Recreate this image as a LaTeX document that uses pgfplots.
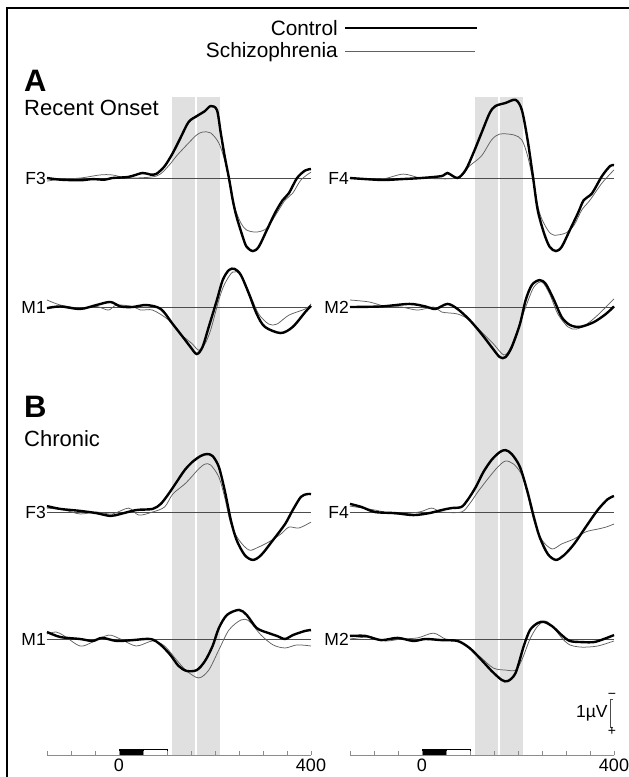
\documentclass[border=0pt]{standalone}
\usepackage{pgfplots}
\pgfplotsset{compat=1.18}
\usepackage{fontspec}
\setmainfont{Liberation Sans}

\pgfplotsset{
  panel/.style={hide axis, scale only axis, width=264pt, height=168pt,
    xmin=-150, xmax=400, ymin=-3, ymax=3, y dir=reverse, clip=false, anchor=west},
  ctrl/.style={black, line width=2.4pt, smooth, tension=0.5, no markers},
  scz/.style={black!62, line width=0.75pt, smooth, tension=0.5, no markers},
  zero/.style={black!70, line width=0.7pt, no markers},
  timeaxis/.style={scale only axis, width=264pt, height=658pt, anchor=south west,
    xmin=-150, xmax=400, ymin=0, ymax=1, axis x line*=bottom, axis y line=none,
    x axis line style={black!45, line width=0.8pt, -}, axis on top,
    xtick={-150,-100,...,400}, xticklabels={,,,0,,,,,,,,400},
    tick align=inside, major tick length=4pt,
    every tick/.style={black!45, line width=0.8pt},
    xticklabel style={font=\fontsize{18}{20}\selectfont, yshift=0pt},
    clip=false},
}
\newcommand{\elab}[1]{\node[anchor=east, inner sep=1pt, font=\fontsize{17.5}{20}\selectfont] at (axis cs:-150,0) {#1};}

\begin{document}
\begin{tikzpicture}
\useasboundingbox (0pt,0pt) rectangle (629pt,-777pt);

% time axes with shaded windows
\begin{axis}[timeaxis, at={(47pt,-755pt)}]
\fill[black!12] (axis cs:110,0) rectangle (axis cs:210,1);
\draw[white, line width=1.5pt] (axis cs:160,0) -- (axis cs:160,1);
\fill[black] (axis cs:0,0) rectangle ([yshift=6pt]axis cs:50,0);
\draw[black, line width=0.6pt, fill=white] (axis cs:50,0) rectangle ([yshift=6pt]axis cs:100,0);
\end{axis}
\begin{axis}[timeaxis, at={(350pt,-755pt)}]
\fill[black!12] (axis cs:110,0) rectangle (axis cs:210,1);
\draw[white, line width=1.5pt] (axis cs:160,0) -- (axis cs:160,1);
\fill[black] (axis cs:0,0) rectangle ([yshift=6pt]axis cs:50,0);
\draw[black, line width=0.6pt, fill=white] (axis cs:50,0) rectangle ([yshift=6pt]axis cs:100,0);
\end{axis}

% ---------- Row 1: Recent onset F3 / F4
\begin{axis}[panel, at={(47pt,-178pt)}]
\addplot[zero] coordinates {(-150,0) (400,0)};
\addplot[scz] coordinates {(-150,0.11)(-120,0.04)(-80,0)(-39,-0.11)(-14,-0.11)(20,0)(78,-0.07)(103,-0.43)(120,-0.79)(145,-1.25)(162,-1.54)(174,-1.64)(191,-1.61)(208,-1.25)(220,-0.64)(233,0.29)(241,1.04)(254,1.61)(266,1.86)(287,1.93)(308,1.79)(329,1.25)(346,0.79)(362,0.54)(379,0.07)(400,-0.21)};
\addplot[ctrl] coordinates {(-150,0)(-122,0.06)(-81,0.08)(-55,0.04)(-30,0.06)(-14,0)(20,-0.04)(49,-0.18)(66,-0.12)(78,-0.15)(95,-0.42)(112,-0.89)(128,-1.43)(145,-2.00)(162,-2.21)(179,-2.39)(191,-2.57)(204,-2.43)(212,-1.61)(220,-0.79)(229,0)(237,0.79)(245,1.39)(258,2.11)(266,2.46)(279,2.61)(291,2.46)(308,1.86)(325,1.25)(341,0.79)(354,0.54)(371,0)(388,-0.27)(400,-0.32)};
\elab{F3}
\end{axis}
\begin{axis}[panel, at={(350pt,-178pt)}]
\addplot[zero] coordinates {(-150,0) (400,0)};
\addplot[scz] coordinates {(-150,0)(-85,0.04)(-39,-0.14)(0,0)(74,0)(99,-0.43)(124,-0.79)(145,-1.36)(162,-1.57)(191,-1.54)(208,-1.36)(220,-0.79)(231,0.07)(245,1.25)(262,1.86)(275,2.04)(300,1.96)(317,1.68)(333,1.14)(350,0.79)(375,0.18)(400,-0.29)};
\addplot[ctrl] coordinates {(-150,0)(-85,0.07)(-43,0.04)(-1,0)(41,-0.07)(53,-0.18)(74,0)(91,-0.29)(107,-0.89)(124,-1.61)(141,-2.32)(153,-2.57)(174,-2.68)(195,-2.79)(208,-2.43)(220,-1.36)(231,-0.07)(241,1.14)(254,1.96)(266,2.46)(279,2.61)(291,2.46)(308,1.86)(325,1.25)(337,0.79)(354,0.55)(375,-0.07)(392,-0.43)(400,-0.46)};
\elab{F4}
\end{axis}

% ---------- Row 2: Recent onset M1 / M2
\begin{axis}[panel, at={(47pt,-307pt)}]
\addplot[zero] coordinates {(-150,0) (400,0)};
\addplot[scz] coordinates {(-150,-0.25)(-122,-0.07)(-81,0.04)(-47,-0.02)(-22,0.11)(-5,-0.07)(28,-0.02)(45,0.11)(70,0.11)(103,0.46)(128,0.96)(153,1.32)(166,1.54)(179,1.32)(191,0.82)(208,-0.25)(220,-0.82)(237,-1.25)(254,-1.14)(275,-0.36)(291,0.25)(312,0.61)(329,0.61)(354,0.29)(388,0.07)(400,-0.11)};
\addplot[ctrl] coordinates {(-150,0.04)(-122,-0.02)(-81,0.07)(-47,-0.07)(-18,-0.18)(3,-0.02)(28,0)(57,-0.07)(87,0.07)(112,0.61)(133,1.07)(149,1.43)(162,1.68)(174,1.43)(187,0.71)(204,-0.25)(216,-0.96)(229,-1.32)(241,-1.36)(254,-1.14)(271,-0.46)(287,0.25)(304,0.71)(337,0.93)(362,0.71)(388,0.18)(400,-0.04)};
\elab{M1}
\end{axis}
\begin{axis}[panel, at={(350pt,-307pt)}]
\addplot[zero] coordinates {(-150,0) (400,0)};
\addplot[scz] coordinates {(-150,-0.25)(-110,-0.18)(-76,-0.02)(-43,0)(-9,0.11)(24,0)(41,0.18)(74,0.25)(99,0.46)(124,0.89)(149,1.32)(170,1.71)(183,1.5)(199,0.82)(216,0)(233,-0.71)(250,-0.89)(266,-0.46)(283,0.25)(304,0.71)(321,0.79)(341,0.64)(366,0.29)(400,-0.29)};
\addplot[ctrl] coordinates {(-150,0)(-85,-0.02)(-26,-0.11)(7,-0.02)(28,0.07)(53,-0.11)(74,0.07)(99,0.46)(124,0.96)(145,1.43)(162,1.79)(174,1.79)(187,1.43)(204,0.61)(216,-0.25)(229,-0.79)(245,-0.96)(258,-0.82)(275,-0.25)(291,0.36)(308,0.64)(329,0.71)(358,0.54)(383,0.25)(400,-0.02)};
\elab{M2}
\end{axis}

% ---------- Row 3: Chronic F3 / F4
\begin{axis}[panel, at={(47pt,-512pt)}]
\addplot[zero] coordinates {(-150,0) (400,0)};
\addplot[scz] coordinates {(-150,-0.14)(-114,-0.07)(-81,0.07)(-47,0)(-14,0.07)(20,-0.14)(41,0.11)(70,0)(95,-0.18)(112,-0.64)(137,-1.0)(153,-1.29)(166,-1.54)(179,-1.71)(191,-1.68)(208,-1.25)(220,-0.54)(233,0.43)(250,1.0)(271,1.36)(291,1.25)(312,1.07)(337,0.79)(354,0.54)(375,0.57)(400,0.36)};
\addplot[ctrl] coordinates {(-150,-0.21)(-122,-0.11)(-81,-0.04)(-47,0.04)(-18,0.14)(3,0.07)(36,-0.07)(70,-0.11)(87,-0.29)(103,-0.64)(120,-1.07)(137,-1.5)(153,-1.79)(170,-2.0)(183,-2.07)(195,-2.0)(208,-1.61)(220,-0.79)(233,0.29)(245,1.0)(262,1.54)(279,1.71)(296,1.54)(321,1.0)(346,0.43)(362,-0.07)(379,-0.54)(392,-0.64)(400,-0.64)};
\elab{F3}
\end{axis}
\begin{axis}[panel, at={(350pt,-512pt)}]
\addplot[zero] coordinates {(-150,0) (400,0)};
\addplot[scz] coordinates {(-150,-0.21)(-98,-0.07)(-56,0.07)(-6,0)(20,-0.14)(41,0)(82,0)(99,-0.29)(116,-0.71)(137,-1.18)(158,-1.61)(174,-1.82)(191,-1.71)(208,-1.32)(220,-0.61)(233,0.29)(250,1.0)(271,1.32)(291,1.14)(317,0.96)(341,0.71)(366,0.61)(383,0.54)(400,0.43)};
\addplot[ctrl] coordinates {(-150,-0.29)(-126,-0.18)(-98,0)(-56,0.04)(-18,0.11)(15,0.04)(41,-0.07)(61,-0.14)(82,-0.18)(95,-0.43)(112,-0.89)(128,-1.43)(145,-1.86)(162,-2.14)(174,-2.21)(187,-2.07)(204,-1.61)(220,-0.71)(233,0.18)(245,0.89)(262,1.5)(279,1.71)(296,1.54)(317,1.14)(341,0.54)(366,-0.07)(387,-0.46)(400,-0.57)};
\elab{F4}
\end{axis}

% ---------- Row 4: Chronic M1 / M2
\begin{axis}[panel, at={(47pt,-639pt)}]
\addplot[zero] coordinates {(-150,0) (400,0)};
\addplot[scz] coordinates {(-150,-0.18)(-131,-0.25)(-114,-0.11)(-81,0.25)(-55,0.11)(-22,-0.14)(3,0)(36,0.25)(70,0.07)(95,0.25)(120,0.75)(141,1.14)(166,1.39)(187,1.11)(208,0.39)(229,-0.32)(254,-0.68)(271,-0.64)(296,-0.14)(321,0.21)(346,0.32)(371,0.21)(400,0.25)};
\addplot[ctrl] coordinates {(-150,-0.25)(-122,-0.07)(-81,0)(-55,0.07)(-35,-0.04)(-5,0.07)(28,0.04)(66,0)(87,0.21)(107,0.57)(124,0.96)(141,1.14)(162,1.11)(179,0.79)(195,0.25)(208,-0.39)(225,-0.86)(250,-1.04)(266,-0.86)(287,-0.39)(312,-0.21)(329,-0.11)(346,0)(362,-0.14)(388,-0.29)(400,-0.32)};
\elab{M1}
\end{axis}
\begin{axis}[panel, at={(350pt,-639pt)}]
\addplot[zero] coordinates {(-150,0) (400,0)};
\addplot[scz] coordinates {(-150,0)(-110,-0.07)(-76,0.07)(-43,0)(-9,-0.04)(24,-0.21)(49,0)(74,0.04)(99,0.32)(124,0.68)(149,1.04)(174,1.11)(195,1.11)(208,0.75)(225,0)(241,-0.46)(258,-0.64)(275,-0.39)(291,-0.04)(308,0.21)(333,0.29)(366,0.25)(400,0.07)};
\addplot[ctrl] coordinates {(-150,-0.11)(-118,-0.11)(-85,0.04)(-51,-0.04)(-18,0.07)(7,0)(41,0.04)(74,0.07)(99,0.32)(124,0.75)(145,1.14)(166,1.46)(179,1.5)(195,1.21)(212,0.25)(225,-0.32)(241,-0.57)(254,-0.61)(271,-0.46)(291,-0.14)(308,0.07)(333,0.11)(358,0.11)(379,0)(400,-0.14)};
\elab{M2}
% 1 microvolt calibration bracket
\draw[black!70, line width=0.7pt] (axis cs:397,2.14) -- (axis cs:392,2.14) -- (axis cs:392,3.14) -- (axis cs:397,3.14);
\node[anchor=south, inner sep=0.5pt, font=\fontsize{14}{14}\selectfont] at (axis cs:396,2.14) {\textminus};
\node[anchor=north, inner sep=0.5pt, font=\fontsize{14}{14}\selectfont] at (axis cs:396,3.14) {+};
\node[anchor=east, inner sep=1pt, font=\fontsize{17.5}{20}\selectfont] at (axis cs:389,2.64) {1µV};
\end{axis}

% frame
\draw[black, line width=1.4pt] (7pt,-777pt) -- (7pt,-8pt) -- (629pt,-8pt);

% legend
\node[anchor=base east, inner sep=0pt, font=\fontsize{20.8}{24}\selectfont] at (338pt,-35pt) {Control};
\draw[black, line width=2.4pt] (345pt,-28pt) -- (477pt,-28pt);
\node[anchor=base east, inner sep=0pt, font=\fontsize{20.8}{24}\selectfont] at (338pt,-57pt) {Schizophrenia};
\draw[black!62, line width=0.75pt] (345pt,-51pt) -- (475pt,-51pt);

% group titles
\node[anchor=base west, inner sep=0pt, font=\bfseries\fontsize{31}{34}\selectfont] at (24pt,-91pt) {A};
\node[anchor=base west, inner sep=0pt, font=\fontsize{22}{25}\selectfont] at (24pt,-115pt) {Recent Onset};
\node[anchor=base west, inner sep=0pt, font=\bfseries\fontsize{31}{34}\selectfont] at (24pt,-417pt) {B};
\node[anchor=base west, inner sep=0pt, font=\fontsize{22}{25}\selectfont] at (24pt,-446pt) {Chronic};
\end{tikzpicture}
\end{document}
